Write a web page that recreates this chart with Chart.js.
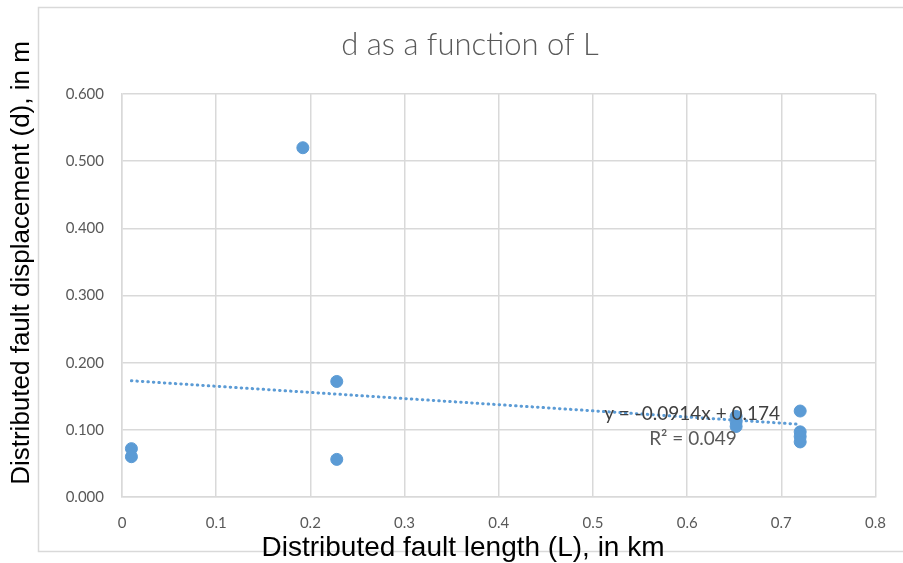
<!DOCTYPE html>
<html>
<head>
<meta charset="utf-8">
<title>d as a function of L</title>
<script src="https://cdn.jsdelivr.net/npm/chart.js@4.4.1/dist/chart.umd.min.js"></script>
<style>
  html, body { margin: 0; padding: 0; background: #ffffff; }
  #wrap { width: 903px; height: 563px; }
</style>
</head>
<body>
<div id="wrap"><canvas id="chart" width="903" height="563"></canvas></div>
<script>
// Distributed fault length (km) and displacement (m) for each measurement
const lengthKm = [0.01, 0.01, 0.192, 0.228, 0.228, 0.652, 0.652, 0.652, 0.72, 0.72, 0.72, 0.72];
const displacementM = [0.072, 0.060, 0.520, 0.172, 0.056, 0.120, 0.112, 0.105, 0.128, 0.097, 0.090, 0.082];

// Linear trendline as reported on the chart
const trendSlope = -0.0914;
const trendIntercept = 0.174;
const trendR2 = 0.049;

// Axis ticks
const xTicks = [0, 0.1, 0.2, 0.3, 0.4, 0.5, 0.6, 0.7, 0.8];
const yTicks = [0, 0.1, 0.2, 0.3, 0.4, 0.5, 0.6];

const chartTitle = 'd as a function of L';
const xTitle = 'Distributed fault length (L), in km';
const yTitle = 'Distributed fault displacement (d), in m';

const points = lengthKm.map((x, i) => ({ x: x, y: displacementM[i] }));
const xMin = Math.min(...lengthKm);
const xMax = Math.max(...lengthKm);
const trendPoints = [xMin, xMax].map(x => ({ x: x, y: trendSlope * x + trendIntercept }));

const blue = '#5b9bd5';
const gridGrey = '#d9d9d9';
const textGrey = '#595959';
const tickFont = 'Lato, "Open Sans", sans-serif';

// Outer frame, chart title and axis titles
const decorations = {
  id: 'decorations',
  beforeDraw(chart) {
    const ctx = chart.ctx;
    ctx.save();
    ctx.fillStyle = '#ffffff';
    ctx.fillRect(0, 0, chart.width, chart.height);
    ctx.strokeStyle = gridGrey;
    ctx.lineWidth = 1.5;
    ctx.strokeRect(38.5, 7.5, 880, 544);
    ctx.restore();
  },
  afterDraw(chart) {
    const ctx = chart.ctx;
    ctx.save();
    ctx.textAlign = 'center';
    ctx.textBaseline = 'middle';

    ctx.fillStyle = textGrey;
    ctx.font = '300 31px ' + tickFont;
    ctx.fillText(chartTitle, 470, 45);

    ctx.fillStyle = '#000000';
    ctx.font = '28px "Liberation Sans", Arial, sans-serif';
    ctx.fillText(xTitle, 463, 548);

    ctx.font = '26px "Liberation Sans", Arial, sans-serif';
    ctx.translate(22, 263);
    ctx.rotate(-Math.PI / 2);
    ctx.fillText(yTitle, 0, 0);
    ctx.restore();
  }
};

// Trendline equation and R² label, placed near the end of the trendline
const trendLabel = {
  id: 'trendLabel',
  afterDatasetsDraw(chart) {
    const ctx = chart.ctx;
    const xs = chart.scales.x, ys = chart.scales.y;
    const cx = xs.getPixelForValue(0.6);
    const cy = ys.getPixelForValue(0.124);
    const sign = trendIntercept >= 0 ? '+' : '-';
    const eq = 'y = ' + trendSlope.toFixed(4) + 'x ' + sign + ' ' + Math.abs(trendIntercept).toFixed(3);
    ctx.save();
    ctx.font = '19px ' + tickFont;
    ctx.textBaseline = 'middle';
    ctx.textAlign = 'left';
    ctx.fillStyle = '#404040';
    ctx.fillText(eq, cx - 83, cy);
    ctx.fillStyle = textGrey;
    ctx.fillText('R\u00B2 = ' + trendR2.toFixed(3), cx - 38, cy + 25);
    ctx.restore();
  }
};

new Chart(document.getElementById('chart'), {
  data: {
    datasets: [
      {
        type: 'scatter',
        label: 'd',
        data: points,
        backgroundColor: blue,
        borderColor: blue,
        pointRadius: 6,
        pointHoverRadius: 6,
        order: 2
      },
      {
        type: 'line',
        label: 'Linear (d)',
        data: trendPoints,
        borderColor: blue,
        borderWidth: 3,
        borderDash: [0.5, 5],
        borderCapStyle: 'round',
        pointRadius: 0,
        fill: false,
        tension: 0,
        order: 1
      }
    ]
  },
  options: {
    responsive: false,
    animation: false,
    layout: { padding: { left: 0, right: 25, top: 94, bottom: 0 } },
    plugins: {
      legend: { display: false },
      tooltip: { enabled: false },
      title: { display: false }
    },
    scales: {
      x: {
        type: 'linear',
        min: 0,
        max: 0.8,
        afterBuildTicks(scale) { scale.ticks = xTicks.map(v => ({ value: v })); },
        afterFit(scale) { scale.height = 66; },
        ticks: {
          color: textGrey,
          font: { family: tickFont, size: 15 },
          padding: 17,
          callback: v => String(Math.round(v * 10) / 10)
        },
        grid: { color: gridGrey, lineWidth: 1.5, drawTicks: false },
        border: { color: gridGrey, width: 1.5 }
      },
      y: {
        type: 'linear',
        min: 0,
        max: 0.6,
        afterBuildTicks(scale) { scale.ticks = yTicks.map(v => ({ value: v })); },
        afterFit(scale) { scale.width = 122; },
        ticks: {
          color: textGrey,
          font: { family: tickFont, size: 15 },
          padding: 18,
          callback: v => Number(v).toFixed(3)
        },
        grid: { color: gridGrey, lineWidth: 1.5, drawTicks: false },
        border: { color: gridGrey, width: 1.5 }
      }
    }
  },
  plugins: [decorations, trendLabel]
});
</script>
</body>
</html>
